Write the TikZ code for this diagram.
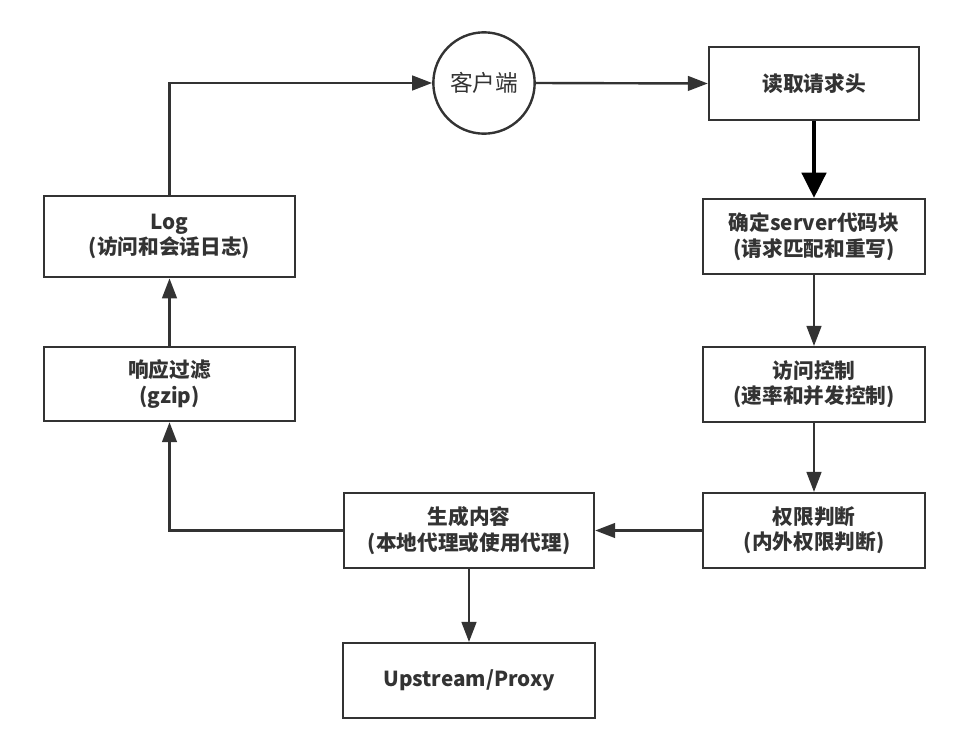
\documentclass[tikz,border=0pt]{standalone}
\usepackage{fontspec}
\setmainfont{Noto Sans CJK SC}
\usetikzlibrary{arrows.meta}
\definecolor{ink}{HTML}{333333}
\tikzset{
  box/.style={draw=ink, line width=1.8pt, fill=white, text=ink, align=center,
    font=\fontsize{15.5pt}{19pt}\selectfont\bfseries, inner sep=0pt},
  conn/.style={draw=ink, line width=1.8pt, -{Triangle[length=15pt,width=11pt]}},
  bigconn/.style={draw=black, line width=3.6pt, -{Triangle[length=19pt,width=18pt]}}
}
\begin{document}
\begin{tikzpicture}[x=0.75pt, y=-0.75pt]
\useasboundingbox[fill=white] (0,0) rectangle (972,750);
\node[circle, draw=ink, line width=1.8pt, minimum size=76pt, inner sep=0pt, text=ink,
  font=\fontsize{17pt}{19pt}\selectfont] (client) at (484,83) {客户端};
\node[box, minimum width=157.5pt, minimum height=55pt] (read) at (814,83.5) {读取请求头};
\node[box, minimum width=166.5pt, minimum height=56pt] (server) at (814,236.5) {确定server代码块\\(请求匹配和重写)};
\node[box, minimum width=166.5pt, minimum height=56pt] (access) at (814,384.5) {访问控制\\(速率和并发控制)};
\node[box, minimum width=166.5pt, minimum height=56pt] (perm) at (814,530.5) {权限判断\\(内外权限判断)};
\node[box, minimum width=187.5pt, minimum height=56pt] (gen) at (469,530.5) {生成内容\\(本地代理或使用代理)};
\node[box, minimum width=189pt, minimum height=56pt] (up) at (469,680.5) {Upstream/Proxy};
\node[box, minimum width=188pt, minimum height=55.5pt] (filter) at (169.5,384) {响应过滤\\(gzip)};
\node[box, minimum width=188pt, minimum height=61pt] (log) at (169.5,236.5) {Log\\(访问和会话日志)};
\draw[conn] (log.north) |- (client.west);
\draw[conn] (client.east) -- (read.west);
\draw[bigconn] (read.south) -- (server.north);
\draw[conn] (server.south) -- (access.north);
\draw[conn] (access.south) -- (perm.north);
\draw[conn] (perm.west) -- (gen.east);
\draw[conn] (gen.south) -- (up.north);
\draw[conn] (gen.west) -| (filter.south);
\draw[conn] (filter.north) -- (log.south);
\end{tikzpicture}
\end{document}
